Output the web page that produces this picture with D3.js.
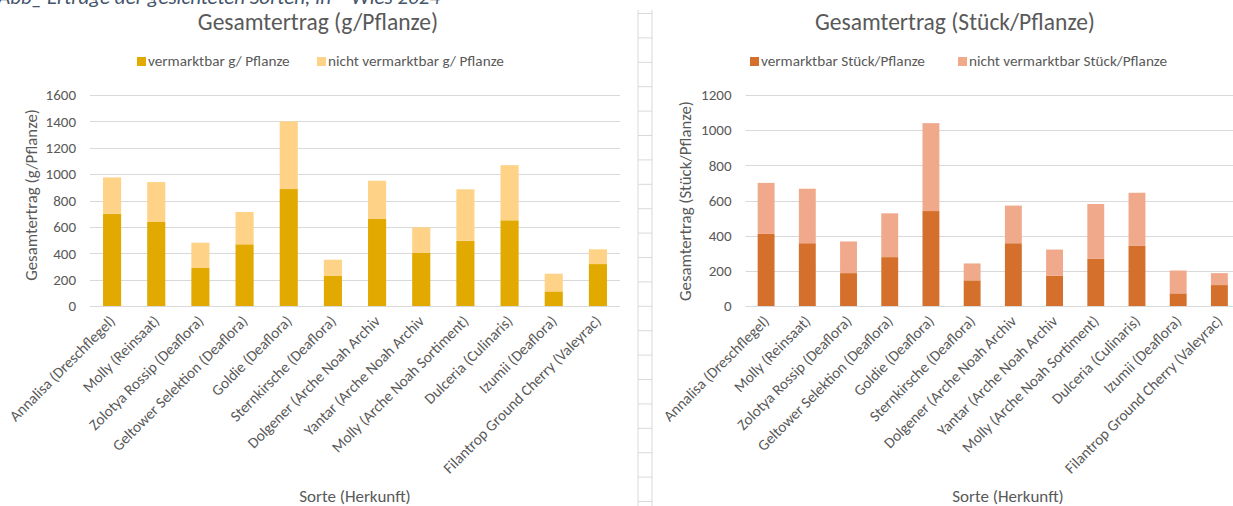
<!DOCTYPE html>
<html><head><meta charset="utf-8">
<script src="https://cdn.jsdelivr.net/npm/d3@7"></script>
<style>
html,body{margin:0;padding:0;background:#fff;}
svg{display:block;font-family:Carlito,Calibri,Lato,"Open Sans",sans-serif;}
</style></head>
<body>
<svg id="c" width="1233" height="506"></svg>
<script>
const categories = ["Annalisa (Dreschflegel)","Molly (Reinsaat)","Zolotya Rossip (Deaflora)","Geltower Selektion (Deaflora)","Goldie (Deaflora)","Sternkirsche (Deaflora)","Dolgener (Arche Noah Archiv","Yantar (Arche Noah Archiv","Molly (Arche Noah Sortiment)","Dulceria (Culinaris)","Izumii (Deaflora)","Filantrop Ground Cherry (Valeyrac)"];
const gramVermarktbar = [700,637,288,468,887,230,660,402,495,650,111,318];
const gramNichtVermarktbar = [275,303,192,245,513,121,290,195,390,418,134,112];
const stueckVermarktbar = [410,357,187,278,540,146,357,172,268,344,72,119];
const stueckNichtVermarktbar = [290,310,180,249,500,96,214,149,312,300,130,68];
const gramTicks = [0,200,400,600,800,1000,1200,1400,1600];
const stueckTicks = [0,200,400,600,800,1000,1200];

const svg = d3.select("#c");
const grey = "#595959", gridC = "#d9d9d9";
const FONT = "Carlito,Calibri,Lato,sans-serif";

// clipped caption
svg.append("text").attr("x",-2).attr("y",4).attr("font-size",21).attr("font-style","italic")
  .attr("fill","#44546a").text("Abb_ Erträge der gesichteten Sorten, In – Wies 2024");

// separator strip (spreadsheet cells)
const sepRows = d3.range(0,21);
const sep = svg.append("g").attr("stroke",gridC).attr("stroke-width",1);
sep.append("line").attr("x1",638).attr("x2",638).attr("y1",10).attr("y2",506);
sep.append("line").attr("x1",652).attr("x2",652).attr("y1",10).attr("y2",506);
sep.selectAll("line.r").data(sepRows).join("line").attr("class","r")
  .attr("x1",638).attr("x2",652).attr("y1",(d)=>13.5+d*24.4).attr("y2",(d)=>13.5+d*24.4);

function chart(cfg){
  const g = svg.append("g");
  const x = d3.scaleBand().domain(categories).range([cfg.x0,cfg.x1]).paddingInner(0.59).paddingOuter(0.295);
  const y = d3.scaleLinear().domain([0,cfg.max]).range([306,95]);
  // grid
  g.append("g").selectAll("line").data(cfg.ticks).join("line")
    .attr("x1",cfg.x0).attr("x2",cfg.x1).attr("y1",d=>Math.round(y(d))+0.5).attr("y2",d=>Math.round(y(d))+0.5)
    .attr("stroke",gridC).attr("stroke-width",1);
  // y axis labels
  const ya = g.append("g").attr("transform",`translate(${cfg.x0},0)`)
    .call(d3.axisLeft(y).tickValues(cfg.ticks).tickFormat(d3.format("d")).tickSize(0).tickPadding(14));
  ya.select(".domain").remove();
  ya.selectAll("text").attr("font-size",15).attr("fill",grey).attr("font-family",FONT);
  // bars
  const data = categories.map((c,i)=>({c, a:cfg.a[i], b:cfg.b[i]}));
  g.append("g").selectAll("rect").data(data).join("rect")
    .attr("x",d=>x(d.c)).attr("width",x.bandwidth())
    .attr("y",d=>y(d.a)).attr("height",d=>y(0)-y(d.a)).attr("fill",cfg.c1);
  g.append("g").selectAll("rect").data(data).join("rect")
    .attr("x",d=>x(d.c)).attr("width",x.bandwidth())
    .attr("y",d=>y(d.a+d.b)).attr("height",d=>y(d.a)-y(d.a+d.b)).attr("fill",cfg.c2);
  // x labels
  const xa = g.append("g").attr("transform","translate(0,306)")
    .call(d3.axisBottom(x).tickSize(0).tickPadding(0));
  xa.select(".domain").remove();
  xa.selectAll("text").attr("font-size",15.3).attr("fill",grey).attr("font-family",FONT)
    .attr("text-anchor","end").attr("dy",0).attr("y",0)
    .attr("transform","translate(4,16) rotate(-45)");
  // titles
  g.append("text").attr("x",cfg.tx).attr("y",30).attr("text-anchor","middle").attr("font-size",23.5).attr("fill",grey).text(cfg.title);
  g.append("text").attr("transform",`translate(${cfg.yx},${cfg.yy}) rotate(-90)`).attr("text-anchor","middle")
    .attr("font-size",16.8).attr("fill",grey).text(cfg.ytitle);
  g.append("text").attr("x",cfg.xx).attr("y",502).attr("text-anchor","middle").attr("font-size",17).attr("fill",grey).text("Sorte (Herkunft)");
  // legend
  const lg = g.append("g");
  cfg.leg.forEach((l,i)=>{
    lg.append("rect").attr("x",l.x).attr("y",57).attr("width",9).attr("height",9).attr("fill",i? cfg.c2: cfg.c1);
    lg.append("text").attr("x",l.x+11).attr("y",66).attr("font-size",15.2).attr("fill",grey).text(l.t);
  });
}

chart({x0:90,x1:620,max:1600,ticks:gramTicks,a:gramVermarktbar,b:gramNichtVermarktbar,
  c1:"#e2a900",c2:"#fed387",title:"Gesamtertrag (g/Pflanze)",tx:318,ytitle:"Gesamtertrag (g/Pflanze)",yx:37,yy:195,xx:355,
  leg:[{x:137,t:"vermarktbar g/ Pflanze"},{x:317,t:"nicht vermarktbar g/ Pflanze"}]});
chart({x0:745.5,x1:1240,max:1200,ticks:stueckTicks,a:stueckVermarktbar,b:stueckNichtVermarktbar,
  c1:"#d4702b",c2:"#f1a98b",title:"Gesamtertrag (Stück/Pflanze)",tx:955,ytitle:"Gesamtertrag (Stück/Pflanze)",yx:691,yy:201,xx:1008,
  leg:[{x:750,t:"vermarktbar Stück/Pflanze"},{x:958,t:"nicht vermarktbar Stück/Pflanze"}]});
</script>
</body></html>
